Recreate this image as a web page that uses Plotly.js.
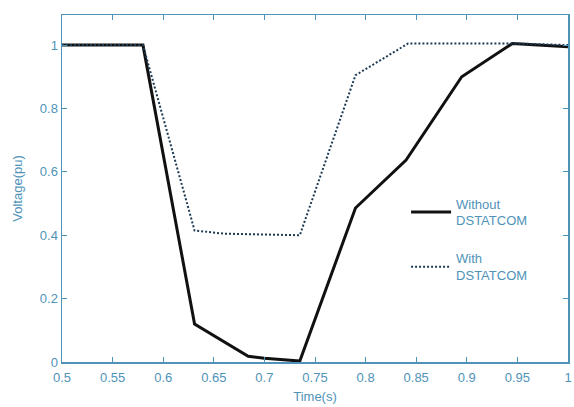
<!DOCTYPE html>
<html>
<head>
<meta charset="utf-8">
<script src="https://cdn.plot.ly/plotly-3.0.1.min.js"></script>
<style>html,body{margin:0;padding:0;background:#fff;}#chart{width:574px;height:407px;}</style>
</head>
<body>
<div id="chart"></div>
<script>
var timeWithout = [0.5, 0.58, 0.631, 0.684, 0.70, 0.735, 0.79, 0.84, 0.895, 0.945, 1.0];
var voltWithout = [1.0, 1.0, 0.12, 0.018, 0.012, 0.003, 0.486, 0.637, 0.9, 1.005, 0.995];
var timeWith = [0.5, 0.58, 0.631, 0.66, 0.735, 0.79, 0.842, 0.95, 1.0];
var voltWith = [1.0, 1.0, 0.415, 0.405, 0.40, 0.905, 1.005, 1.005, 1.0];
var xTicks = [0.5, 0.55, 0.6, 0.65, 0.7, 0.75, 0.8, 0.85, 0.9, 0.95, 1];
var xTickLabels = ["0.5", "0.55", "0.6", "0.65", "0.7", "0.75", "0.8", "0.85", "0.9", "0.95", "1"];
var yTicks = [0, 0.2, 0.4, 0.6, 0.8, 1];
var yTickLabels = ["0", "0.2", "0.4", "0.6", "0.8", "1"];

var axisColor = '#4f93b8';
var fontFam = 'Liberation Sans Narrow, Arial Narrow, Liberation Sans, Arial, sans-serif';

var traces = [
  {x: timeWithout, y: voltWithout, mode: 'lines', name: 'Without<br>DSTATCOM',
   legendgroup: 'without', line: {color: '#111111', width: 3}},
  {x: timeWith, y: voltWith, mode: 'lines', name: 'With<br>DSTATCOM',
   legendgroup: 'with', line: {color: '#1d3a55', width: 2, dash: '2px,2px'}}
];

var axisCommon = {
  showgrid: false, zeroline: false, showline: true, mirror: 'ticks',
  linecolor: axisColor, linewidth: 1.5, ticks: 'inside', ticklen: 5,
  tickcolor: axisColor, tickfont: {family: fontFam, size: 13, color: axisColor}
};

var layout = {
  width: 574, height: 407,
  margin: {l: 62, r: 6, t: 15, b: 45},
  paper_bgcolor: '#ffffff', plot_bgcolor: '#ffffff',
  showlegend: true,
  legend: {x: 0.68, y: 0.5, xanchor: 'left', yanchor: 'top',
    bgcolor: 'rgba(0,0,0,0)', borderwidth: 0, traceorder: 'grouped',
    font: {family: fontFam, size: 13, color: axisColor},
    tracegroupgap: 18, itemwidth: 40},
  xaxis: Object.assign({}, axisCommon, {
    range: [0.5, 1.0], tickvals: xTicks, ticktext: xTickLabels, ticklabelstandoff: 3,
    title: {text: 'Time(s)', font: {family: fontFam, size: 13, color: axisColor}, standoff: 8}
  }),
  yaxis: Object.assign({}, axisCommon, {
    range: [0, 1.095], tickvals: yTicks, ticktext: yTickLabels,
    title: {text: 'Voltage(pu)', font: {family: fontFam, size: 13, color: axisColor}, standoff: 14}
  })
};

Plotly.newPlot('chart', traces, layout, {displayModeBar: false, staticPlot: true});
</script>
</body>
</html>
